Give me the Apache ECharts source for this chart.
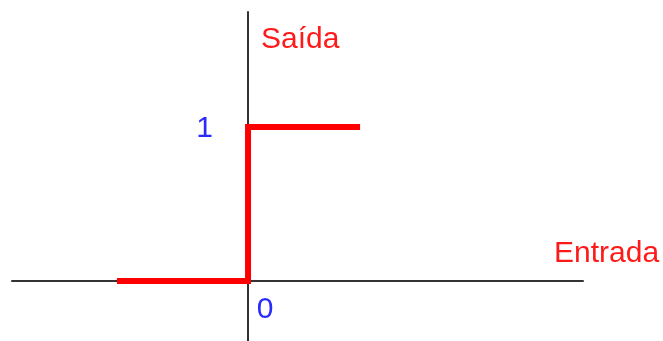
<!DOCTYPE html>
<html>
<head>
<meta charset="utf-8">
<script src="https://cdn.jsdelivr.net/npm/echarts@6/dist/echarts.min.js"></script>
<style>
html,body{margin:0;padding:0;background:#fff;}
#c{width:663px;height:341px;}
</style>
</head>
<body>
<div id="c"></div>
<script>
// Data
var stepX = [-1.17, 0, 0, 1];
var stepY = [0, 0, 1, 1];
var xTickValues = [0];
var xTickLabels = ['0'];
var yTickValues = [1];
var yTickLabels = ['1'];
var xName = 'Entrada';
var yName = 'Saída';

var stepData = stepX.map(function (x, i) { return [x, stepY[i]]; });

var chart = echarts.init(document.getElementById('c'), null, {renderer: 'canvas'});
var font = '"Liberation Sans", Arial, sans-serif';
chart.setOption({
  animation: false,
  backgroundColor: '#ffffff',
  grid: {left: 12, right: 80, top: 12, bottom: 0, containLabel: false, outerBoundsMode: 'none'},
  xAxis: {
    type: 'value', min: -2.107, max: 2.99,
    axisLine: {onZero: true, lineStyle: {color: '#333333', width: 2}},
    axisTick: {show: false},
    splitLine: {show: false},
    axisLabel: {show: false}
  },
  yAxis: {
    type: 'value', min: -0.39, max: 1.747,
    axisLine: {onZero: true, lineStyle: {color: '#333333', width: 2}},
    axisTick: {show: false},
    splitLine: {show: false},
    axisLabel: {show: false}
  },
  graphic: [
    {type: 'text', left: 261, top: 25, style: {text: yName, fill: '#ff1a1a', font: '30px ' + font}},
    {type: 'text', left: 554, top: 239, style: {text: xName, fill: '#ff1a1a', font: '30px ' + font}}
  ],
  series: [{
    type: 'line',
    data: stepData,
    showSymbol: false,
    symbol: 'none',
    lineStyle: {color: '#ff0000', width: 6, join: 'miter', cap: 'butt'},
    z: 5
  }, {
    type: 'scatter',
    symbolSize: 0,
    silent: true,
    itemStyle: {opacity: 1},
    data: xTickValues.map(function (v, i) { return {value: [v, 0], label: {formatter: xTickLabels[i]}}; }),
    label: {show: true, position: 'bottom', offset: [17, 9], color: '#2a2aff', fontSize: 30, fontFamily: font}
  }, {
    type: 'scatter',
    symbolSize: 0,
    silent: true,
    itemStyle: {opacity: 1},
    data: yTickValues.map(function (v, i) { return {value: [0, v], label: {formatter: yTickLabels[i]}}; }),
    label: {show: true, position: 'left', offset: [-30, 2], color: '#2a2aff', fontSize: 30, fontFamily: font}
  }]
});
</script>
</body>
</html>
